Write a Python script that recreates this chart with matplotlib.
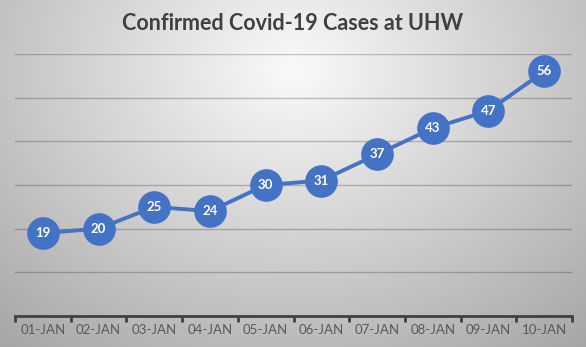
import numpy as np
import matplotlib.pyplot as plt

dates = ["01-JAN", "02-JAN", "03-JAN", "04-JAN", "05-JAN",
         "06-JAN", "07-JAN", "08-JAN", "09-JAN", "10-JAN"]
cases = [19, 20, 25, 24, 30, 31, 37, 43, 47, 56]

W, H = 586, 347
fig = plt.figure(figsize=(W / 100, H / 100), dpi=100)

# radial gradient background
bg = fig.add_axes([0, 0, 1, 1])
yy, xx = np.mgrid[0:H, 0:W]
r = np.sqrt(((xx - W * 0.5) / (W * 0.7)) ** 2 + ((yy - H * 0.2) / (H * 0.95)) ** 2)
shade = np.clip(0.98 - 0.30 * r, 0, 1)
bg.imshow(np.dstack([shade] * 3), aspect="auto", extent=[0, 1, 0, 1])
bg.axis("off")

ax = fig.add_axes([15 / W, 31 / H, (572 - 15) / W, (316 - 54) / H])
ax.patch.set_alpha(0)
x = np.arange(len(dates))
ax.plot(x, cases, color="#4472C4", lw=2.8, marker="o", ms=22.5,
        markerfacecolor="#4472C4", markeredgecolor="#4472C4", zorder=3)
for xi, v in zip(x, cases):
    ax.text(xi, v, str(v), ha="center", va="center", color="white",
            fontsize=9.5, fontweight="bold", family="Lato", zorder=4)

ax.set_xlim(-0.5, len(dates) - 0.5)
ax.set_ylim(0, 60)
ax.set_yticks(np.arange(10, 61, 10))
ax.yaxis.grid(True, color="black", alpha=0.22, lw=1)
ax.set_axisbelow(True)
ax.tick_params(axis="y", left=False, labelleft=False)
for s in ["top", "right", "left"]:
    ax.spines[s].set_visible(False)
ax.spines["bottom"].set_color("#404040")
ax.spines["bottom"].set_linewidth(2)

ax.set_xticks(np.arange(-0.5, len(dates), 1))
ax.set_xticklabels([])
ax.set_xticks(x, minor=True)
ax.set_xticklabels(dates, minor=True, fontsize=9.5, color="#595959", family="Lato")
ax.tick_params(axis="x", which="major", length=4, width=2, color="#404040")
ax.tick_params(axis="x", which="minor", length=0, pad=6)

fig.text(0.5, 1 - 23 / H, "Confirmed Covid-19 Cases at UHW", ha="center", va="center",
         fontsize=15.5, fontweight="bold", color="#404040", family="Lato")

fig.savefig("out.png", dpi=100)
